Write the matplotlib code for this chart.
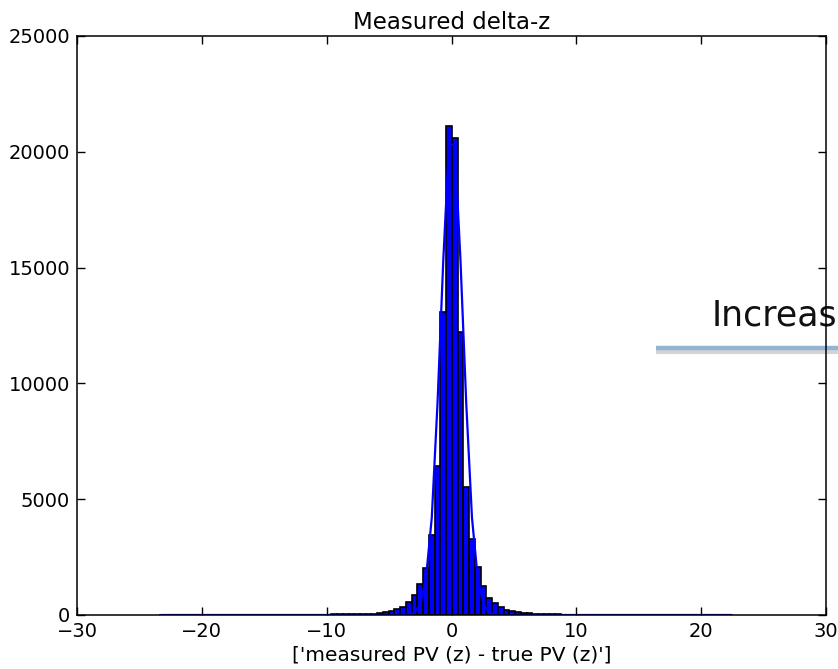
import numpy as np
import matplotlib
matplotlib.use("Agg")
import matplotlib.pyplot as plt
from matplotlib.lines import Line2D

# ---- data ----
first_edge = -23.43
bin_width = 0.46
n_bins = 100

counts_left_tail = [2, 3, 3, 3, 4, 4, 4, 5, 5, 5, 6, 6, 7, 7, 8, 8, 9, 10, 10,
                    11, 12, 12, 13, 14, 15, 16, 17, 18, 19, 20, 22, 24, 27]
counts_core = [30, 30, 40, 60, 60, 100, 115, 170, 270, 360, 540, 855, 1345, 2020,
               3460, 6430, 13080, 21100, 20600, 12230, 5540, 3260, 2060, 1260, 750,
               530, 350, 215, 170, 145, 100, 70, 60, 45, 50, 50, 30, 20]
counts_right_tail = [18, 16, 15, 14, 13, 12, 11, 10, 9, 9, 8, 8, 7, 7, 6, 6, 5, 5,
                     5, 4, 4, 4, 3, 3, 3, 2, 2, 2, 2]
counts = counts_left_tail + counts_core + counts_right_tail

# fitted curve evaluated at bin centres (bins -7 .. +8 around the peak), zero elsewhere
fit_core = [15, 100, 460, 1600, 4200, 9150, 15300, 20300, 20300, 15300, 9150, 4200,
            1600, 460, 100, 15]
fit_left_zeros = 43
fit_right_zeros = 41

title = "Measured delta-z"
xlabel = "['measured PV (z) - true PV (z)']"
overlay_text = "Increas"

# ---- build ----
bin_edges = first_edge + bin_width * np.arange(n_bins + 1)
bin_centers = 0.5 * (bin_edges[:-1] + bin_edges[1:])
fit_values = [0] * fit_left_zeros + fit_core + [0] * fit_right_zeros

fig = plt.figure(figsize=(8.38, 6.69), dpi=100)
fig.patch.set_facecolor("white")
ax = fig.add_axes([77 / 838, 54 / 669, 749 / 838, 579 / 669])

ax.hist(bin_centers, bins=bin_edges, weights=counts, color="#0000ff",
        edgecolor="black", linewidth=1.2, zorder=1)
ax.plot(bin_centers, fit_values, color="#0000ff", lw=1.6, zorder=1.5)

ax.set_xlim(-30, 30)
ax.set_ylim(0, 25000)
ax.set_xticks([-30, -20, -10, 0, 10, 20, 30])
ax.set_yticks([0, 5000, 10000, 15000, 20000, 25000])
ax.tick_params(direction="in", top=True, right=True, length=6, width=1,
               labelsize=14, pad=5)
for s in ax.spines.values():
    s.set_linewidth(1.1)
    s.set_zorder(3)

ax.set_title(title, fontsize=16.5, pad=5)
ax.set_xlabel(xlabel, fontsize=14.5, labelpad=3)

# slide overlay (partially cut off at the right edge)
ax.text(712 / 838, 1 - 326 / 669, overlay_text, transform=fig.transFigure,
        fontsize=25, family="DejaVu Sans", color="#111111", ha="left",
        va="baseline", clip_on=False, zorder=2)
shadow = Line2D([656 / 838, 1.0], [1 - 351.5 / 669, 1 - 351.5 / 669],
                transform=fig.transFigure, color="#d4d4d4", lw=3,
                solid_capstyle="butt", clip_on=False, zorder=1.9)
bar_line = Line2D([656 / 838, 1.0], [1 - 347.5 / 669, 1 - 347.5 / 669],
                  transform=fig.transFigure, color="#94b4d4", lw=3.2,
                  solid_capstyle="butt", clip_on=False, zorder=2)
ax.add_line(shadow)
ax.add_line(bar_line)

fig.savefig("out.png", dpi=100, facecolor="white")
